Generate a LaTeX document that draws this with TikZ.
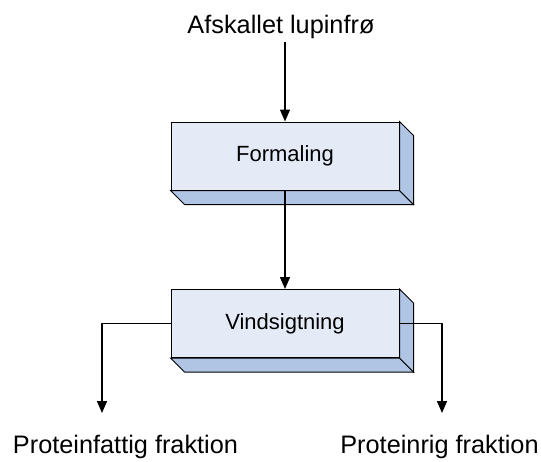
\documentclass[tikz,border=0pt]{standalone}
\usepackage{fontspec}
\setmainfont{Liberation Sans}
\usetikzlibrary{arrows.meta}

\definecolor{slabfront}{RGB}{228,235,246}
\definecolor{slabside}{RGB}{176,196,228}

\begin{document}
\begin{tikzpicture}[
        x=1pt, y=-1pt,
        every node/.style={align=center},
        slab/.style={draw, line width=1pt, fill=slabfront,
                     minimum width=228pt, minimum height=68pt,
                     inner sep=0pt, font=\fontsize{22}{26}\selectfont},
        face/.style={draw, line width=1pt, fill=slabside},
        label/.style={font=\fontsize{25.3}{30}\selectfont, anchor=base},
        flow/.style={line width=1.4pt,
                     -{Triangle[width=10pt, length=12pt]}},
    ]
    \useasboundingbox (0,0) rectangle (541,461);

    % --- Input and output texts ---------------------------------------
    \node[label] (seed) at (281,33) {Afskallet lupinfrø};
    \node[label] (poor) at (125.5,453) {Proteinfattig fraktion};
    \node[label] (rich) at (439.5,453) {Proteinrig fraktion};

    % --- Two process slabs ----------------------------------------------
    \node[slab] (form) at (285,156) {Formaling};
    \node[slab] (vind) at (285,323.5) {Vindsigtning};

    % Depth faces (bottom and right) of each slab
    \draw[face] (form.south west) -- ++(14,14) -- ([shift={(14,14)}]form.south east)
        -- (form.south east) -- cycle;
    \draw[face] (form.north east) -- ++(14,14) -- ([shift={(14,14)}]form.south east)
        -- (form.south east) -- cycle;
    \draw[face] (vind.south west) -- ++(14,14) -- ([shift={(14,14)}]vind.south east)
        -- (vind.south east) -- cycle;
    \draw[face] (vind.north east) -- ++(14,14) -- ([shift={(14,14)}]vind.south east)
        -- (vind.south east) -- cycle;

    % --- Free ends above the two fractions -------------------------------
    \coordinate (poorend) at (102,413);
    \coordinate (richend) at (442,413);

    % --- Connectors -----------------------------------------------------
    \draw[flow] (form.north |- seed.south) -- (form.north);
    \draw[flow] (form.south) -- (vind.north);
    \draw[flow] (vind.west) -| (poorend);
    \draw[flow] (vind.east) -| (richend);

    \end{tikzpicture}
\end{document}
